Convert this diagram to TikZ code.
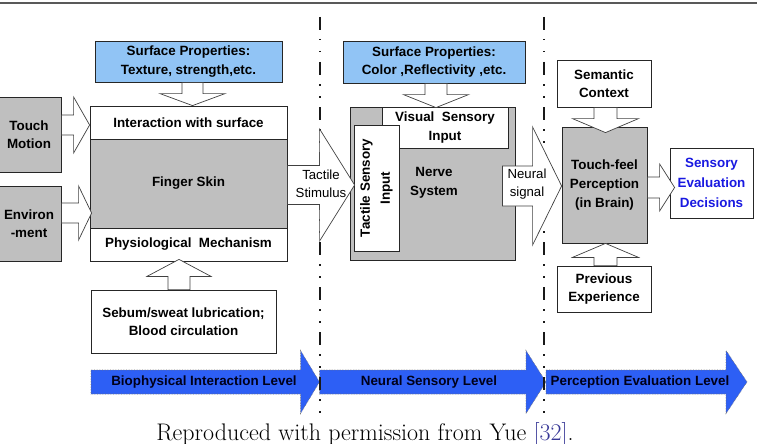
\documentclass[tikz,border=0pt]{standalone}
\usepackage{fontspec}
\usetikzlibrary{calc}
\newfontfamily\arialf{Liberation Sans}

\definecolor{propblue}{RGB}{145,196,245}
\definecolor{levelblue}{RGB}{45,95,245}
\definecolor{decblue}{RGB}{25,25,225}
\definecolor{citeblue}{RGB}{55,55,150}

% Block arrow: [style]{tail}{tip}{shaft half width}{head half width}{head length}
\newcommand\blockarrow[6][]{%
  \coordinate (ba-h) at ($(#3)!#6pt!(#2)$);
  \draw[#1] ($(#2)!#4pt!90:(#3)$) -- ($(ba-h)!#4pt!90:(#3)$) -- ($(ba-h)!#5pt!90:(#3)$)
    -- (#3) -- ($(ba-h)!#5pt!-90:(#3)$) -- ($(ba-h)!#4pt!-90:(#3)$) -- ($(#2)!#4pt!-90:(#3)$) -- cycle;
}

\tikzset{
  lbl/.style={font=\arialf\bfseries\fontsize{13.4}{18.5}\selectfont, align=center, inner sep=0pt},
  thin lbl/.style={font=\arialf\fontsize{13.2}{18}\selectfont, align=center, inner sep=0pt},
  box/.style={lbl, draw=black!85, line width=0.8pt, fill=white},
  graybox/.style={box, fill=black!25},
  propbox/.style={box, fill=propblue},
  hollow/.style={fill=white, draw=black!75, line width=0.7pt, line join=miter},
  levelarrow/.style={fill=levelblue, draw=black!55, densely dotted, line width=0.6pt},
  levelsep/.style={draw=black!90, line width=1.7pt,
    dash pattern=on 13pt off 9pt on 1.5pt off 10.5pt on 1.5pt off 9.5pt},
}

\begin{document}
\begin{tikzpicture}[x=1pt,y=-1pt]
\useasboundingbox (0,0) rectangle (757,444);

% rule above the figure
\draw[black!65, line width=1.6pt] (0,3) -- (757,3);

% ---------- biophysical interaction ----------
\node[graybox, minimum width=64pt, minimum height=75pt] (touch) at (29,134.5) {Touch\\Motion};
\node[graybox, minimum width=64pt, minimum height=75pt] (env) at (29,223.5) {Environ\\-ment};
\node[box, minimum width=197pt, minimum height=33pt] (inter) at (188.5,122.5) {Interaction with surface};
\node[graybox, minimum width=197pt, minimum height=89pt] (skin) at (188.5,183.5) {Finger Skin};
\node[box, minimum width=197pt, minimum height=33pt] (physio) at (188.5,244.5) {Physiological\ \ Mechanism};
\node[propbox, minimum width=187pt, minimum height=41pt] (sp1) at (188.5,61.5) {Surface Properties:\\Texture, strength,etc.};
\node[box, minimum width=185pt, minimum height=63pt] (sebum) at (183.5,321.5) {Sebum/sweat lubrication;\\Blood circulation};

% ---------- neural sensory ----------
\node[propbox, minimum width=182pt, minimum height=42pt] (sp2) at (434,62) {Surface Properties:\\Color ,Reflectivity ,etc.};
\node[graybox, minimum width=165pt, minimum height=153pt] (nerve) at (432.5,183.5) {};
\node[box, minimum width=126pt, minimum height=41pt] (visual) at (445,127.5) {Visual\ \ Sensory\\Input};
\node[box, minimum width=45pt, minimum height=126pt] (tact) at (376.5,188) {};
\node[lbl, rotate=90, font=\arialf\bfseries\fontsize{13.4}{20}\selectfont] (tacttext) at (tact.center) {Tactile Sensory\\Input};
\node[lbl] (nervetext) at (434,183) {Nerve\\System};

% ---------- perception evaluation ----------
\node[box, minimum width=94pt, minimum height=47pt] (sem) at (604,83.5) {Semantic\\Context};
\node[graybox, minimum width=85pt, minimum height=116pt, font=\arialf\bfseries\fontsize{13.4}{19}\selectfont] (feel) at (604.5,185) {Touch-feel\\Perception\\(in Brain)};
\node[box, minimum width=94pt, minimum height=46pt] (prev) at (604,289) {Previous\\Experience};
\node[box, minimum width=83pt, minimum height=70pt, text=decblue, font=\arialf\bfseries\fontsize{13.4}{20}\selectfont] (sens) at (711.5,183) {Sensory\\Evaluation\\Decisions};

% ---------- level band ----------
\coordinate (lv0) at (91,382);
\coordinate (lv1) at (319.5,382);
\coordinate (lv2) at (546,382);
\coordinate (lv3) at (747,382);
\blockarrow[levelarrow]{lv0}{lv1}{12}{31.5}{19}
\blockarrow[levelarrow]{lv1}{lv2}{12}{31.5}{20}
\blockarrow[levelarrow]{lv2}{lv3}{12}{31.5}{21}
\node[lbl, text=black!90!blue] (lvA) at (204,382) {Biophysical Interaction Level};
\node[lbl, text=black!90!blue] (lvB) at (429,382) {Neural Sensory Level};
\node[lbl, text=black!90!blue] (lvC) at (640,382) {Perception Evaluation Level};

% level separators
\coordinate (sepAt) at (320,17);
\coordinate (sepAb) at (320,415);
\coordinate (sepBt) at (544,17);
\coordinate (sepBb) at (544,415);
\draw[levelsep] (sepAt) -- (sepAb);
\draw[levelsep] (sepBt) -- (sepBb);

% ---------- hollow block arrows ----------
\coordinate (a1t) at ($(sp1.south)+(4,0)$);
\coordinate (a1h) at ($(inter.north)+(4,0)$);
\blockarrow[hollow]{a1t}{a1h}{10.5}{32.5}{12}

\coordinate (a2t) at ($(touch.east)+(0,-9.5)$);
\coordinate (a2h) at (a2t -| inter.west);
\blockarrow[hollow]{a2t}{a2h}{10}{28}{16}

\coordinate (a3t) at ($(env.east)+(0,-10.5)$);
\coordinate (a3h) at ($(a3t -| skin.west)+(2,0)$);
\blockarrow[hollow]{a3t}{a3h}{10}{27}{13}

\coordinate (a4t) at ($(sebum.north)+(-4.5,0)$);
\coordinate (a4h) at ($(a4t |- physio.south)+(0,-2)$);
\blockarrow[hollow]{a4t}{a4h}{11}{32}{17}

\coordinate (a5t) at ($(skin.east)+(0,1.5)$);
\coordinate (a5h) at ($(a5t -| tact.west)+(1,0)$);
\blockarrow[hollow]{a5t}{a5h}{19.5}{56}{35}
\node[thin lbl] (tactlbl) at (321,184) {Tactile\\Stimulus};

\coordinate (a6t) at ($(sp2.south)+(2,0)$);
\coordinate (a6h) at ($(a6t |- visual.north)+(0,1)$);
\blockarrow[hollow]{a6t}{a6h}{11}{32.5}{13}

\coordinate (a7t) at ($(nerve.east)+(-13,2.5)$);
\coordinate (a7h) at (a7t -| feel.west);
\blockarrow[hollow]{a7t}{a7h}{20}{59}{29}
\node[thin lbl] (neurlbl) at (527,184) {Neural\\signal};

\coordinate (a8t) at ($(sem.south)+(1.5,0)$);
\coordinate (a8h) at ($(feel.north)+(1,6)$);
\blockarrow[hollow]{a8t}{a8h}{11.5}{33}{14}

\coordinate (a9t) at ($(prev.north)+(1.5,0)$);
\coordinate (a9h) at ($(feel.south)+(1,0)$);
\blockarrow[hollow]{a9t}{a9h}{11.5}{33}{14}

\coordinate (a10t) at ($(feel.east)+(0,2.5)$);
\coordinate (a10h) at ($(a10t -| sens.west)+(5,0)$);
\blockarrow[hollow]{a10t}{a10h}{10.5}{23.5}{15}

% caption
\node[font=\normalfont\fontsize{24}{28}\selectfont, anchor=base, inner sep=0pt] (cap) at (365,440)
  {Reproduced with permission from Yue \textcolor{citeblue}{[32]}.};
\end{tikzpicture}
\end{document}
